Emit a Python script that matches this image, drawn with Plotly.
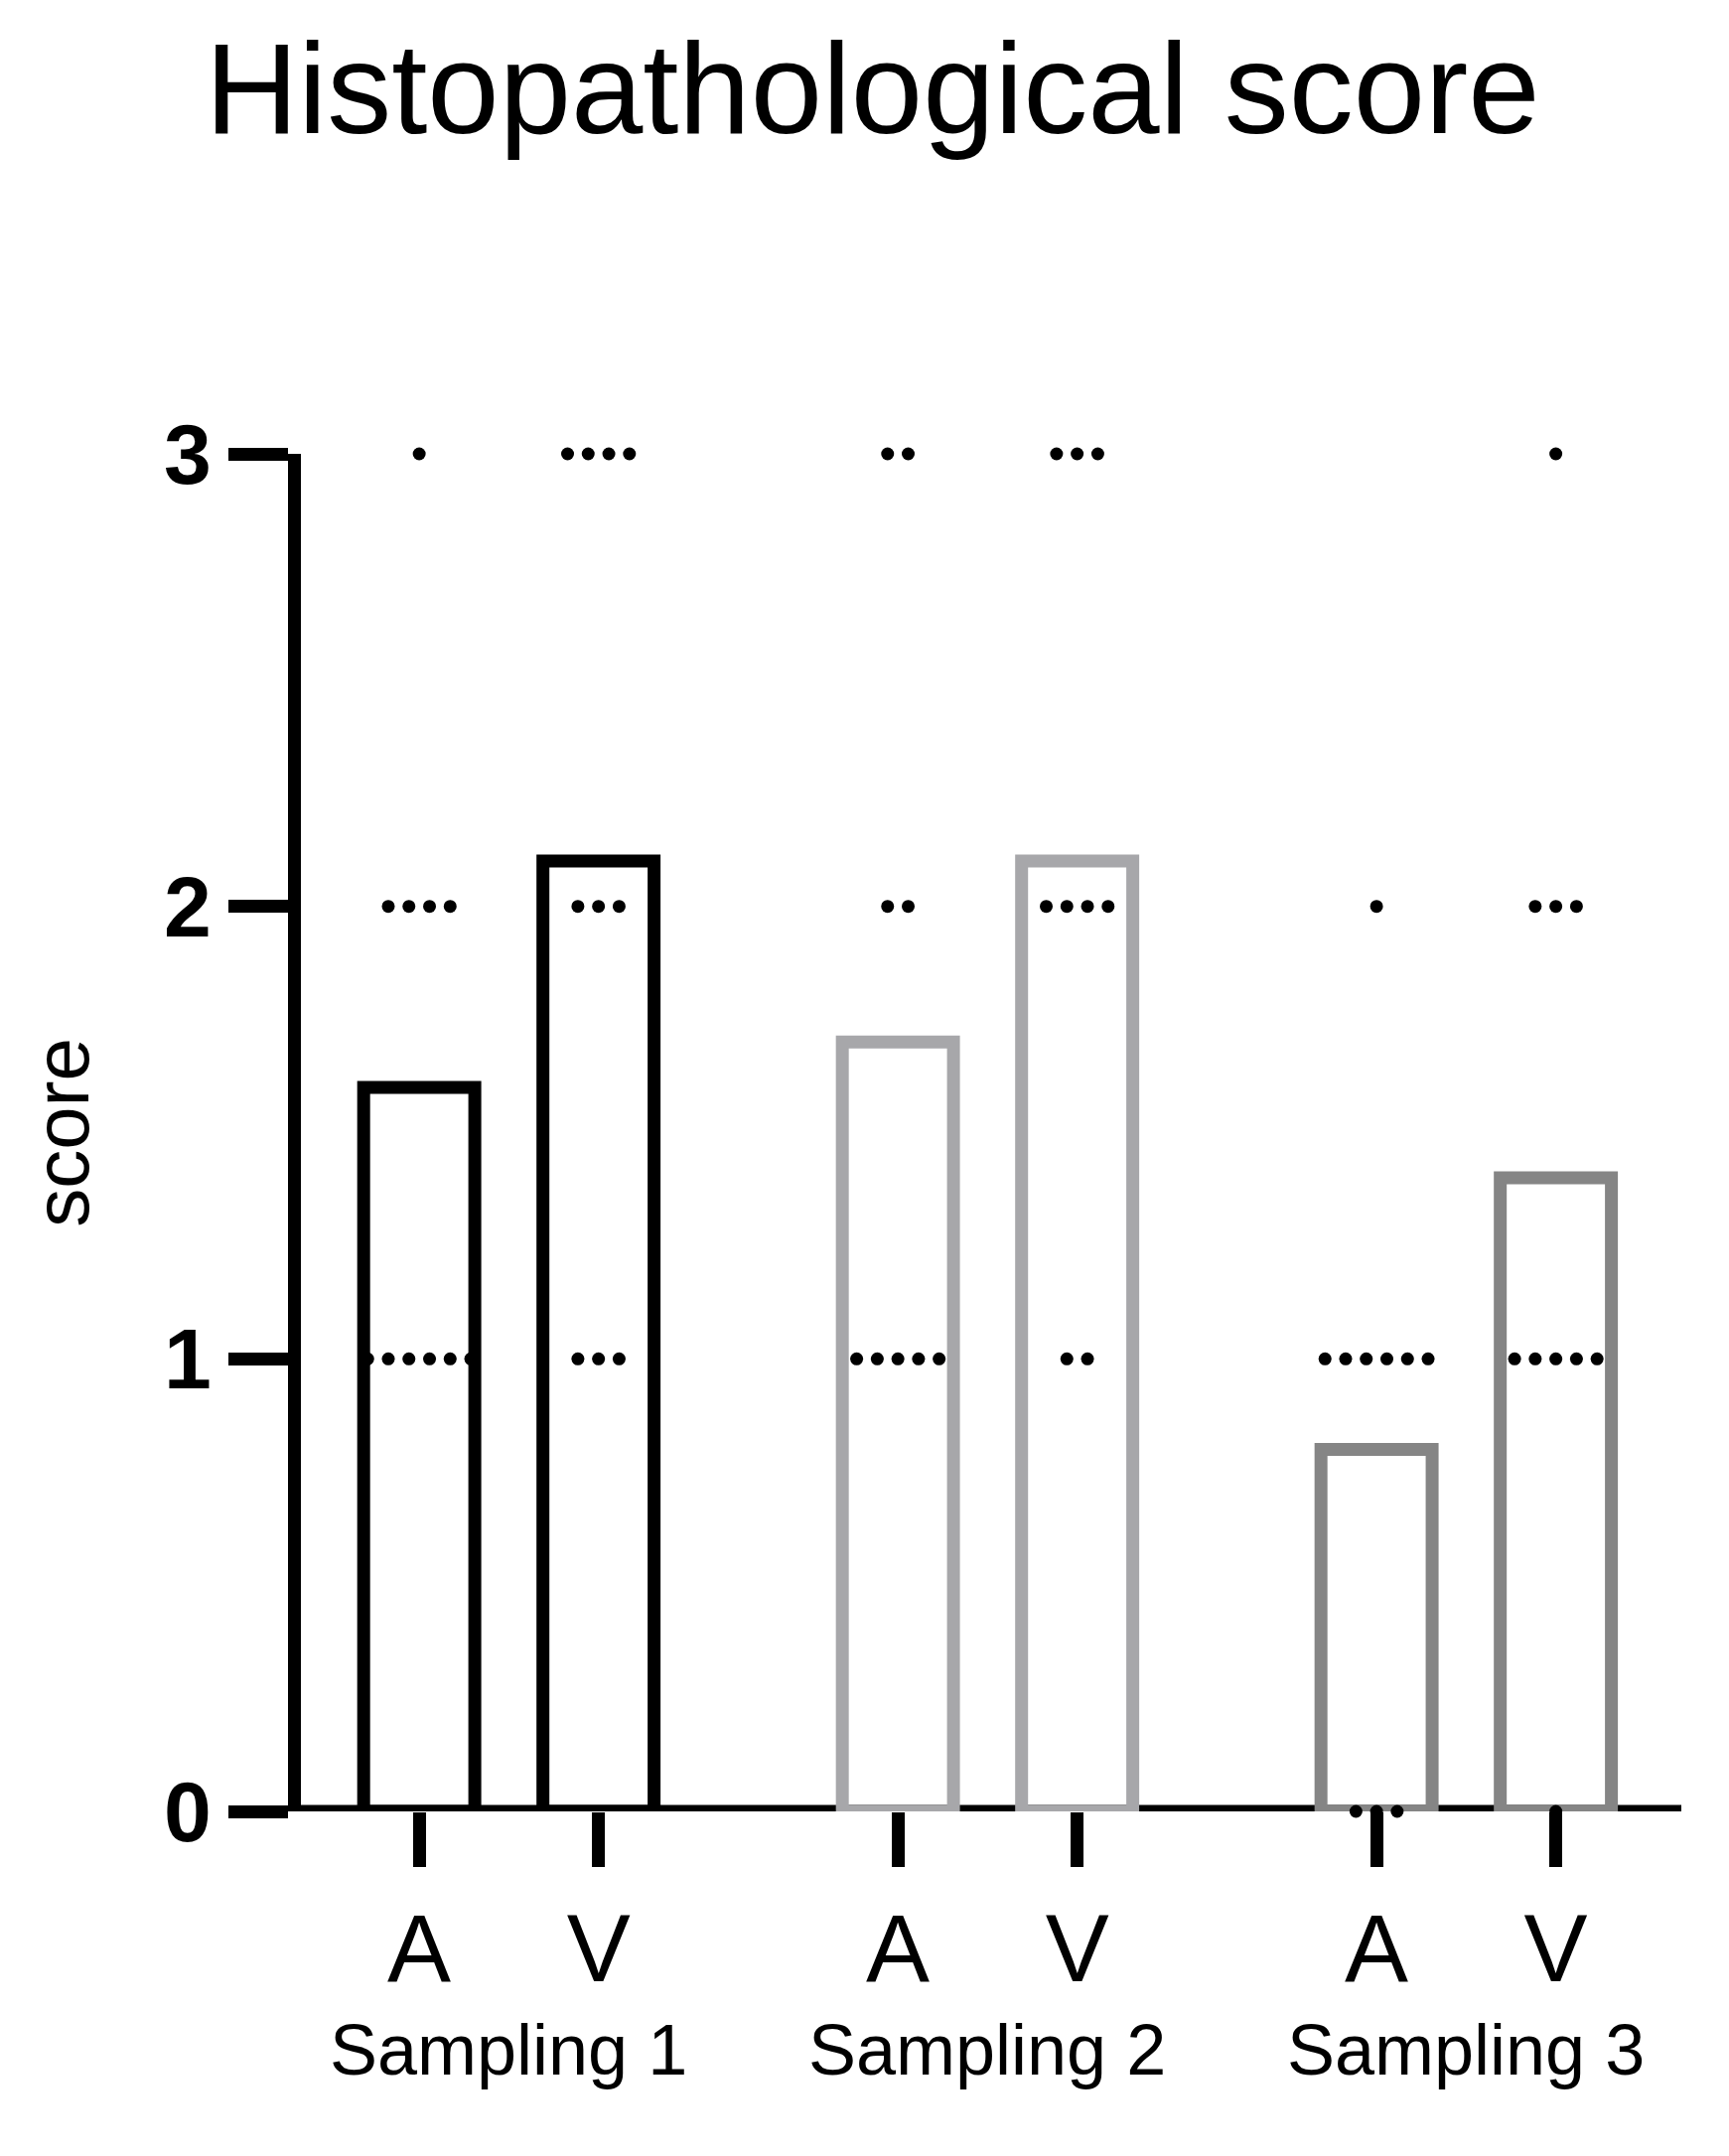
import plotly.graph_objects as go

groups = ["Sampling 1", "Sampling 1", "Sampling 2", "Sampling 2", "Sampling 3", "Sampling 3"]
sites = ["A", "V", "A", "V", "A", "V"]
means = [1.6, 2.1, 1.7, 2.1, 0.8, 1.4]
# counts of animals per score level (0,1,2,3)
counts = [
    [0, 6, 4, 1],
    [0, 3, 3, 4],
    [0, 5, 2, 2],
    [0, 2, 4, 3],
    [3, 6, 1, 0],
    [1, 5, 3, 1],
]
colors = ["#000000", "#000000", "#a7a7aa", "#a7a7aa", "#858585", "#858585"]
xpos = [0, 1, 2.67, 3.67, 5.34, 6.34]

FONT = "Liberation Sans, Arial, sans-serif"
fig = go.Figure()
fig.add_trace(go.Bar(x=xpos, y=means, width=0.62, marker=dict(color="rgba(0,0,0,0)",
              line=dict(color=colors, width=13)), showlegend=False))

dx = 0.115
for i, c in enumerate(counts):
    xs, ys = [], []
    for level, n in enumerate(c):
        for k in range(n):
            xs.append(xpos[i] + (k - (n - 1) / 2) * dx)
            ys.append(level)
    fig.add_trace(go.Scatter(x=xs, y=ys, mode="markers", cliponaxis=False,
                             marker=dict(color="black", size=13), showlegend=False))

fig.add_trace(go.Scatter(x=xpos, y=[3.26] * 6, mode="text", text=[f"{m:.1f}" for m in means],
                         textfont=dict(size=60, family=FONT, color="black"), cliponaxis=False, showlegend=False))

for g in ["Sampling 1", "Sampling 2", "Sampling 3"]:
    idx = [i for i, gg in enumerate(groups) if gg == g]
    fig.add_annotation(x=sum(xpos[i] for i in idx) / len(idx), y=-0.206, xref="x", yref="paper",
                       text=g, showarrow=False, font=dict(size=72, family=FONT, color="black"))

fig.update_layout(
    width=1741, height=2171, plot_bgcolor="white", paper_bgcolor="white",
    margin=dict(l=295, r=56, t=449, b=355),
    title=dict(text="Histopathological score", x=0.5, xanchor="center", y=0.963, yanchor="middle",
               font=dict(size=130, family=FONT, color="black")),
    font=dict(family=FONT, color="black"),
    xaxis=dict(range=[-0.66, 7.04], tickvals=xpos, ticktext=sites, showgrid=False, zeroline=False,
               showline=False, ticks="outside", ticklen=55, tickwidth=13, tickcolor="black",
               tickfont=dict(size=96)),
    yaxis=dict(range=[0, 3], tickvals=[0, 1, 2, 3], showgrid=False, zeroline=False,
               showline=True, linewidth=13, linecolor="black", ticks="outside", ticklen=60,
               tickwidth=13, tickcolor="black", tickfont=dict(size=86, family="Liberation Sans, Arial", weight="bold"),
               title=dict(text="score", font=dict(size=78), standoff=55)),
)
fig.add_shape(type="line", xref="paper", yref="y", x0=-0.005, x1=1, y0=0, y1=0,
              line=dict(color="black", width=13), layer="below")
fig.write_html("out.html")
